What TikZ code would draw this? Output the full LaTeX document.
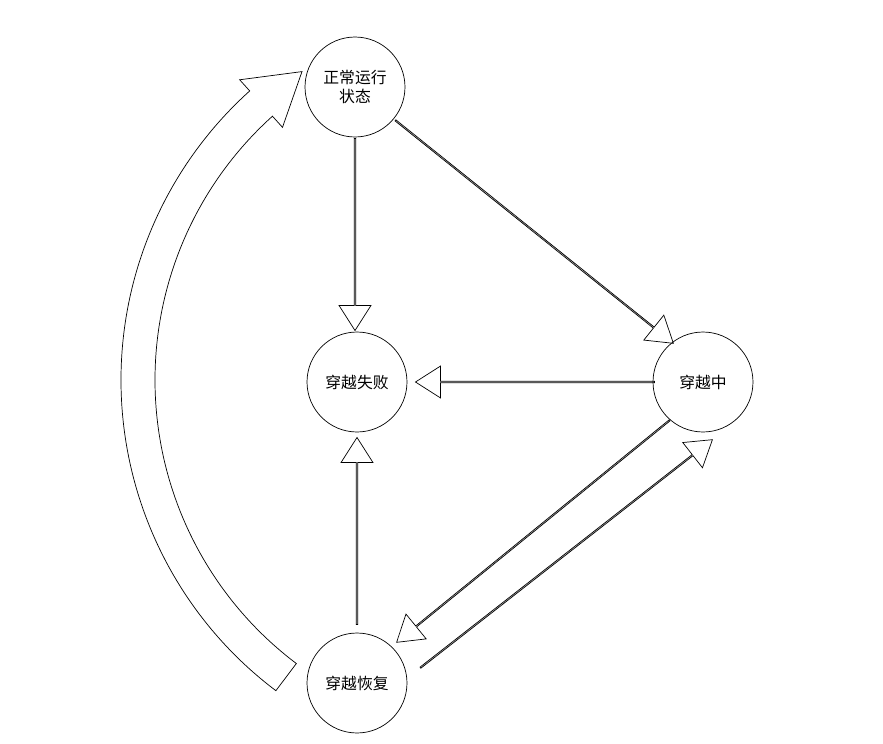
\documentclass[tikz,border=0pt]{standalone}
\usepackage{fontspec}
\setmainfont{Noto Sans CJK SC}
\usetikzlibrary{shapes.arrows,calc}

\tikzset{
  state/.style={draw, circle, minimum size=2cm, inner sep=0pt, align=center, font=\small},
  hollow/.style={draw, single arrow, inner sep=0pt, minimum width=0.64cm,
    single arrow head extend=0.16cm, single arrow tip angle=65}
}
\newcommand{\blockarrow}[2]{%
  \path let \p1=(#1), \p2=(#2), \n1={atan2(\y2-\y1,\x2-\x1)}, \n2={veclen(\x2-\x1,\y2-\y1)} in
    node[hollow, minimum height=\n2, rotate=\n1] at ($(#1)!0.5!(#2)$) {};}

\begin{document}
\begin{tikzpicture}[x=0.02cm, y=-0.02cm]
  \useasboundingbox (0,0) rectangle (883,744);
  % States
  \node[state] (normal) at (355,87) {正常运行\\状态};
  \node[state] (fail) at (357,382) {穿越失败};
  \node[state] (crossing) at (703,382) {穿越中};
  \node[state] (recover) at (357,683) {穿越恢复};

  % Arrow ends
  \coordinate (n1) at (355,138); \coordinate (f1) at (355,330);
  \coordinate (n2) at (395,120); \coordinate (c2) at (673,343);
  \coordinate (c3) at (655,382); \coordinate (f3) at (416,382);
  \coordinate (c4) at (670,420); \coordinate (r4) at (397,642);
  \coordinate (r5) at (420,668); \coordinate (c5) at (712,440);
  \coordinate (r6) at (357,625); \coordinate (f6) at (357,438);

  \blockarrow{n1}{f1}
  \blockarrow{n2}{c2}
  \blockarrow{c3}{f3}
  \blockarrow{c4}{r4}
  \blockarrow{r5}{c5}
  \blockarrow{r6}{f6}

  % Back to normal operation
  \draw ([shift={(510,380)}]127:389) arc[start angle=127, end angle=228, radius=389]
    -- ([shift={(510,380)}]228:404) -- ([shift={(510,380)}]236:372)
    -- ([shift={(510,380)}]228:340) -- ([shift={(510,380)}]228:355)
    arc[start angle=228, end angle=127, radius=355] -- cycle;
\end{tikzpicture}
\end{document}
